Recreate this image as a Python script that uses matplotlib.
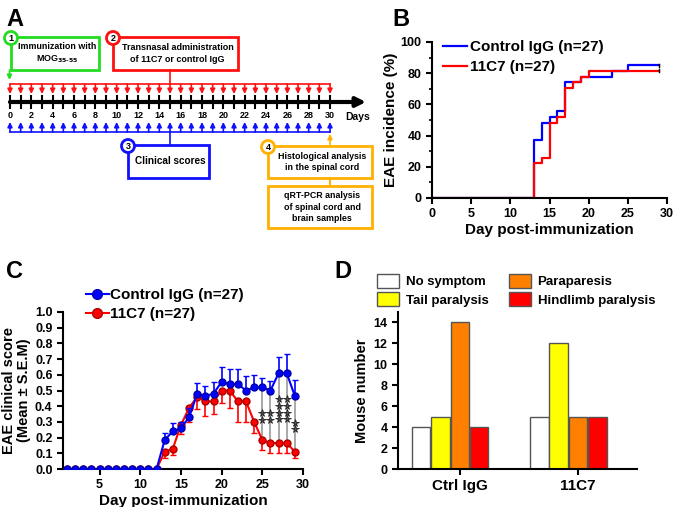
import numpy as np
import matplotlib
matplotlib.use("Agg")
import matplotlib.pyplot as plt
from matplotlib.patches import Rectangle, Circle
from matplotlib.lines import Line2D

plt.rcParams['font.family'] = ['Liberation Sans', 'DejaVu Sans']
plt.rcParams['font.weight'] = 'bold'
plt.rcParams['axes.labelweight'] = 'bold'
plt.rcParams['axes.linewidth'] = 1.5
plt.rcParams['xtick.major.width'] = 1.5
plt.rcParams['ytick.major.width'] = 1.5
plt.rcParams['xtick.minor.width'] = 1.2
plt.rcParams['ytick.minor.width'] = 1.2

W, H = 675, 507

# ---- data ----
timeline_days = list(range(0, 31))
timeline_labels = list(range(0, 31, 2))

# panel B: EAE incidence (%) step curves
ctrl_inc_days = [0, 13, 14, 15, 16, 17, 19, 23, 25, 29]
ctrl_inc = [0, 37.0, 48.1, 51.9, 55.6, 74.1, 77.8, 81.5, 85.2, 85.2]
c7_inc_days = [0, 13, 14, 15, 16, 17, 18, 19, 20, 29]
c7_inc = [0, 22.2, 25.9, 48.1, 51.9, 70.4, 74.1, 77.8, 81.5, 81.5]

# panel C: clinical scores
score_days = list(range(1, 30))
ctrl_score = [0] * 12 + [0.185, 0.24, 0.26, 0.33, 0.48, 0.465, 0.48, 0.555, 0.54, 0.54,
                         0.50, 0.52, 0.52, 0.50, 0.61, 0.61, 0.465]
ctrl_sem = [0] * 12 + [0.045, 0.05, 0.04, 0.06, 0.07, 0.065, 0.075, 0.095, 0.10, 0.095,
                       0.095, 0.08, 0.06, 0.06, 0.105, 0.12, 0.10]
c7_score = [0] * 12 + [0.11, 0.13, 0.28, 0.39, 0.46, 0.43, 0.43, 0.50, 0.50, 0.43,
                       0.43, 0.30, 0.185, 0.165, 0.165, 0.165, 0.11]
c7_sem = [0] * 12 + [0.04, 0.04, 0.06, 0.09, 0.08, 0.09, 0.08, 0.08, 0.11, 0.13,
                     0.13, 0.07, 0.065, 0.06, 0.06, 0.06, 0.04]
sig_days = [25, 26, 27, 28, 29]
sig_count = [2, 2, 4, 4, 2]
sig_mid = [0.335, 0.335, 0.38, 0.38, 0.274]

# panel D: symptom counts
groups = ['Ctrl IgG', '11C7']
symptoms = ['No symptom', 'Tail paralysis', 'Paraparesis', 'Hindlimb paralysis']
symptom_colors = ['white', '#FFFF00', '#FF8000', '#FF0000']
counts = {'Ctrl IgG': [4, 5, 14, 4], '11C7': [5, 12, 5, 5]}

fig = plt.figure(figsize=(W / 100, H / 100), dpi=100)

def fig_text(x, y, s, **kw):
    fig.text(x / W, 1 - y / H, s, **kw)

for letter, x, y in [('A', 6, 20), ('B', 392, 20), ('C', 6, 272), ('D', 334, 272)]:
    fig_text(x, y, letter, fontsize=17, fontweight='bold', va='center', ha='left')

# ---- panel A: timeline diagram (pixel coordinates) ----
axA = fig.add_axes([0, 1 - 250 / H, 400 / W, 250 / H])
axA.set_xlim(0, 400)
axA.set_ylim(250, 0)
axA.axis('off')

x0, step = 10, 10.667
def dx(d):
    return x0 + d * step

RED, BLUE, GREEN, ORANGE = '#FF1010', '#1010FF', '#22DD22', '#FFB000'
red_y, red_tip = 84, 94
line_y = 102
blue_y, blue_tip = 132, 122

def arrow(x1, y1, x2, y2, color, lw=1.2, ms=7):
    axA.annotate('', xy=(x2, y2), xytext=(x1, y1),
                 arrowprops=dict(arrowstyle='-|>', color=color, lw=lw,
                                 mutation_scale=ms, shrinkA=0, shrinkB=0))

# black axis
arrow(dx(0), line_y, 366, line_y, 'black', lw=3, ms=14)
for d in timeline_days:
    axA.plot([dx(d), dx(d)], [96, 108], color='black', lw=1.5)
for d in timeline_labels:
    axA.text(dx(d), 116, str(d), ha='center', va='center', fontsize=6.5, fontweight='bold')
axA.text(345, 117, 'Days', ha='left', va='center', fontsize=7.5, fontweight='bold')

# red administration arrows
axA.plot([dx(0), dx(30)], [red_y, red_y], color=RED, lw=1.2)
for d in timeline_days:
    arrow(dx(d), red_y, dx(d), red_tip, RED)
# blue scoring arrows
axA.plot([dx(0), dx(30)], [blue_y, blue_y], color=BLUE, lw=1.2)
for d in timeline_days:
    arrow(dx(d), blue_y, dx(d), blue_tip, BLUE)

def box(x1, y1, x2, y2, color, num, lines, fs=6.6):
    axA.add_patch(Rectangle((x1, y1), x2 - x1, y2 - y1, fill=False, ec=color, lw=2))
    if num is not None:
        axA.add_patch(Circle((x1, y1 + 1), 6.5, fc='white', ec=color, lw=2, zorder=5))
        axA.text(x1, y1 + 1.5, num, ha='center', va='center', fontsize=6.5,
                 fontweight='bold', zorder=6)
    axA.text((x1 + x2) / 2 + 2, (y1 + y2) / 2, lines, ha='center', va='center',
             fontsize=fs, fontweight='bold', linespacing=1.3)

box(11, 37, 99, 70, GREEN, '1', 'Immunization with\nMOG$_{\\mathbf{35\\text{-}55}}$', fs=6.4)
arrow(dx(0) - 0.5, 70, dx(0) - 0.5, 80, GREEN)

box(113, 37, 238, 70, RED, '2', 'Transnasal administration\nof 11C7 or control IgG', fs=6.5)
axA.plot([dx(15), dx(15)], [70, red_y], color=RED, lw=1.2)

box(128, 145, 209, 178, BLUE, '3', 'Clinical scores', fs=7.2)
axA.plot([dx(15), dx(15)], [blue_y, 145], color=BLUE, lw=1.2)

box(268, 146, 372, 178, ORANGE, '4', 'Histological analysis\nin the spinal cord', fs=6.4)
arrow(dx(30), 146, dx(30), 134, ORANGE)
axA.plot([dx(30), dx(30)], [178, 186], color=ORANGE, lw=1.5)
box(268, 186, 372, 228, ORANGE, None, 'qRT-PCR analysis\nof spinal cord and\nbrain samples', fs=6.4)

# ---- panel B: incidence ----
axB = fig.add_axes([432 / W, 1 - 198 / H, (667 - 432) / W, (198 - 42) / H])
axB.step(ctrl_inc_days, ctrl_inc, where='post', color='#0000FF', lw=1.6,
         label='Control IgG (n=27)')
axB.step(c7_inc_days, c7_inc, where='post', color='#FF0000', lw=1.6,
         label='11C7 (n=27)')
axB.plot([29, 29], [ctrl_inc[-1] - 1, ctrl_inc[-1] + 1], color='black', lw=1)
axB.plot([29, 29], [c7_inc[-1] - 1, c7_inc[-1] + 1], color='black', lw=1)
axB.set_xlim(0, 30)
axB.set_ylim(0, 100)
axB.set_xticks(range(0, 31, 5))
axB.set_yticks(range(0, 101, 20))
axB.set_yticks(range(10, 100, 20), minor=True)
axB.tick_params(labelsize=9, length=4)
axB.tick_params(which='minor', length=2.5)
axB.set_xlabel('Day post-immunization', fontsize=11, labelpad=2)
axB.set_ylabel('EAE incidence (%)', fontsize=11, labelpad=2)
for s in ['top', 'right']:
    axB.spines[s].set_visible(False)
axB.legend(loc='upper left', bbox_to_anchor=(0.02, 1.05), frameon=False, fontsize=11,
           handlelength=1.6, handletextpad=0.2, labelspacing=0.4, borderaxespad=0)

# ---- panel C: clinical scores ----
axC = fig.add_axes([63 / W, 1 - 469 / H, (303 - 63) / W, (469 - 312) / H])
zeros = np.zeros(len(score_days))
axC.errorbar(score_days, ctrl_score, yerr=[zeros, ctrl_sem], color='#0000FF', marker='o',
             ms=5, lw=1.5, capsize=2, elinewidth=1.2, mec='#0000AA', zorder=4)
axC.errorbar(score_days, c7_score, yerr=[c7_sem, zeros], color='#FF0000', marker='o',
             ms=5, lw=1.5, capsize=2, elinewidth=1.2, mec='#AA0000', zorder=3)
for d, n, mid in zip(sig_days, sig_count, sig_mid):
    i = score_days.index(d)
    axC.plot([d, d], [c7_score[i], ctrl_score[i]], color='#999999', lw=1.2, zorder=1)
    ys = mid + (np.arange(n) - (n - 1) / 2) * 0.042
    axC.plot([d] * n, ys, ls='none', marker='*', ms=5.5, mfc='#555555', mec='#222222',
             mew=0.6, zorder=2)
axC.set_xlim(0.5, 30)
axC.set_ylim(0, 1.0)
axC.set_xticks(range(5, 31, 5))
axC.set_yticks(np.round(np.arange(0, 1.01, 0.1), 1))
axC.tick_params(labelsize=9, length=4)
axC.set_xlabel('Day post-immunization', fontsize=11, labelpad=2)
axC.set_ylabel('EAE clinical score\n(Mean ± S.E.M)', fontsize=10.5, labelpad=3,
               linespacing=1.1)
for s in ['top', 'right']:
    axC.spines[s].set_visible(False)
handles_c = [Line2D([], [], color='#0000FF', marker='o', ms=7, lw=1.5, mec='#0000AA'),
             Line2D([], [], color='#FF0000', marker='o', ms=7, lw=1.5, mec='#AA0000')]
axC.legend(handles_c, ['Control IgG (n=27)', '11C7 (n=27)'], loc='upper left',
           bbox_to_anchor=(0.07, 1.19), frameon=False, fontsize=11,
           handlelength=1.5, handletextpad=0.1, labelspacing=0.3, borderaxespad=0)

# ---- panel D: symptom distribution ----
axD = fig.add_axes([398 / W, 1 - 469 / H, (637 - 398) / W, (469 - 312) / H])
group_starts = [0, 6.1]
for g, start in zip(groups, group_starts):
    for k, (sym, col) in enumerate(zip(symptoms, symptom_colors)):
        axD.bar(start + k, counts[g][k], width=0.95, color=col, edgecolor='#555555', lw=1,
                label=sym if g == groups[0] else None)
axD.set_xlim(-1.19, 11.14)
axD.set_ylim(0, 15)
axD.set_yticks(range(0, 15, 2))
axD.set_xticks([s + 2.0 for s in group_starts])
axD.set_xticklabels(groups, fontsize=11)
axD.tick_params(axis='y', labelsize=9, length=4)
axD.tick_params(axis='x', length=4)
axD.set_ylabel('Mouse number', fontsize=10.5, labelpad=3)
for s in ['top', 'right']:
    axD.spines[s].set_visible(False)
axD.legend(loc='lower left', bbox_to_anchor=(-0.11, 1.0), ncol=2, frameon=False,
           fontsize=9.5, handlelength=1.7, handleheight=1.3, handletextpad=0.5,
           columnspacing=1.5, labelspacing=0.3, borderaxespad=0)

fig.savefig('out.png', dpi=100)
